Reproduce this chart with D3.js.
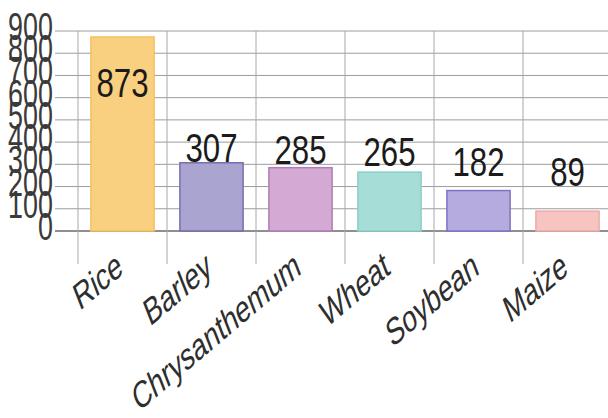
<!DOCTYPE html>
<html>
<head>
<meta charset="utf-8">
<script src="https://cdn.jsdelivr.net/npm/d3@7"></script>
<style>
  html, body { margin: 0; padding: 0; background: #fff; }
  svg { display: block; }
  text { font-family: "Liberation Sans", Arial, sans-serif; }
</style>
</head>
<body>
<svg id="chart" width="608" height="418"></svg>
<script>
// Crop production totals
const crops = ["Rice", "Barley", "Chrysanthemum", "Wheat", "Soybean", "Maize"];
const totals = [873, 307, 285, 265, 182, 89];
const yTicks = [0, 100, 200, 300, 400, 500, 600, 700, 800, 900];
const fills = ["#f9d07f", "#aaa5d0", "#d4a9d4", "#a6ddd7", "#b6abdf", "#f7c5c1"];
const strokes = ["#f4c060", "#766eae", "#b27cb6", "#88d0c8", "#8072c2", "#efaaa7"];

const svg = d3.select("#chart");
const W = 608;
const plotLeft = 78, plotRight = 612, plotTop = 31, plotBottom = 231;

const y = d3.scaleLinear().domain([0, 900]).range([plotBottom, plotTop]);
const cells = d3.scaleBand().domain(crops).range([plotLeft, plotRight]).padding(0);
const x = d3.scaleBand().domain(crops).range([plotLeft, plotRight])
  .paddingInner(0.29).paddingOuter(0.145);
// value labels sit a little above each bar, drifting lower for short bars
const labelY = d3.scaleLinear().domain([0, 900]).range([196.5, 94]);

// horizontal grid
svg.append("g").selectAll("line").data(yTicks).join("line")
  .attr("x1", 55).attr("x2", W)
  .attr("y1", d => y(d)).attr("y2", d => y(d))
  .attr("stroke", d => d === 0 ? "#6a6a6a" : "#9c9c9c")
  .attr("stroke-width", d => d === 0 ? 1.6 : 1);

// vertical grid at category boundaries, running past the baseline as ticks
svg.append("g").selectAll("line").data(crops).join("line")
  .attr("x1", d => cells(d)).attr("x2", d => cells(d))
  .attr("y1", plotTop).attr("y2", 264)
  .attr("stroke", "#a8a8a8").attr("stroke-width", 1);

// y tick labels (tall, narrow numerals)
svg.append("g").selectAll("text").data(yTicks).join("text")
  .attr("transform", d => `translate(53,${y(d) + 9}) scale(0.69,1)`)
  .attr("text-anchor", "end")
  .attr("font-size", 39)
  .attr("fill", "#3a3a3a")
  .text(d => d);

// bars
svg.append("g").selectAll("rect").data(crops).join("rect")
  .attr("x", d => x(d))
  .attr("y", (d, i) => y(totals[i]))
  .attr("width", x.bandwidth())
  .attr("height", (d, i) => y(0) - y(totals[i]))
  .attr("fill", (d, i) => fills[i])
  .attr("stroke", (d, i) => strokes[i])
  .attr("stroke-width", 1.5);

// bar value labels
svg.append("g").selectAll("text").data(crops).join("text")
  .attr("transform", (d, i) =>
    `translate(${x(d) + x.bandwidth() / 2},${labelY(totals[i])}) scale(0.78,1)`)
  .attr("text-anchor", "middle")
  .attr("font-size", 40)
  .attr("fill", "#1b1b1b")
  .text((d, i) => totals[i]);

// category labels, rotated and squeezed
svg.append("g").selectAll("text").data(crops).join("text")
  .attr("transform", d =>
    `translate(${cells(d) + cells.bandwidth() / 2 + 2},273) scale(0.68,1) rotate(-30)`)
  .attr("text-anchor", "end")
  .attr("font-size", 38)
  .attr("fill", "#2e2e2e")
  .text(d => d);
</script>
</body>
</html>
